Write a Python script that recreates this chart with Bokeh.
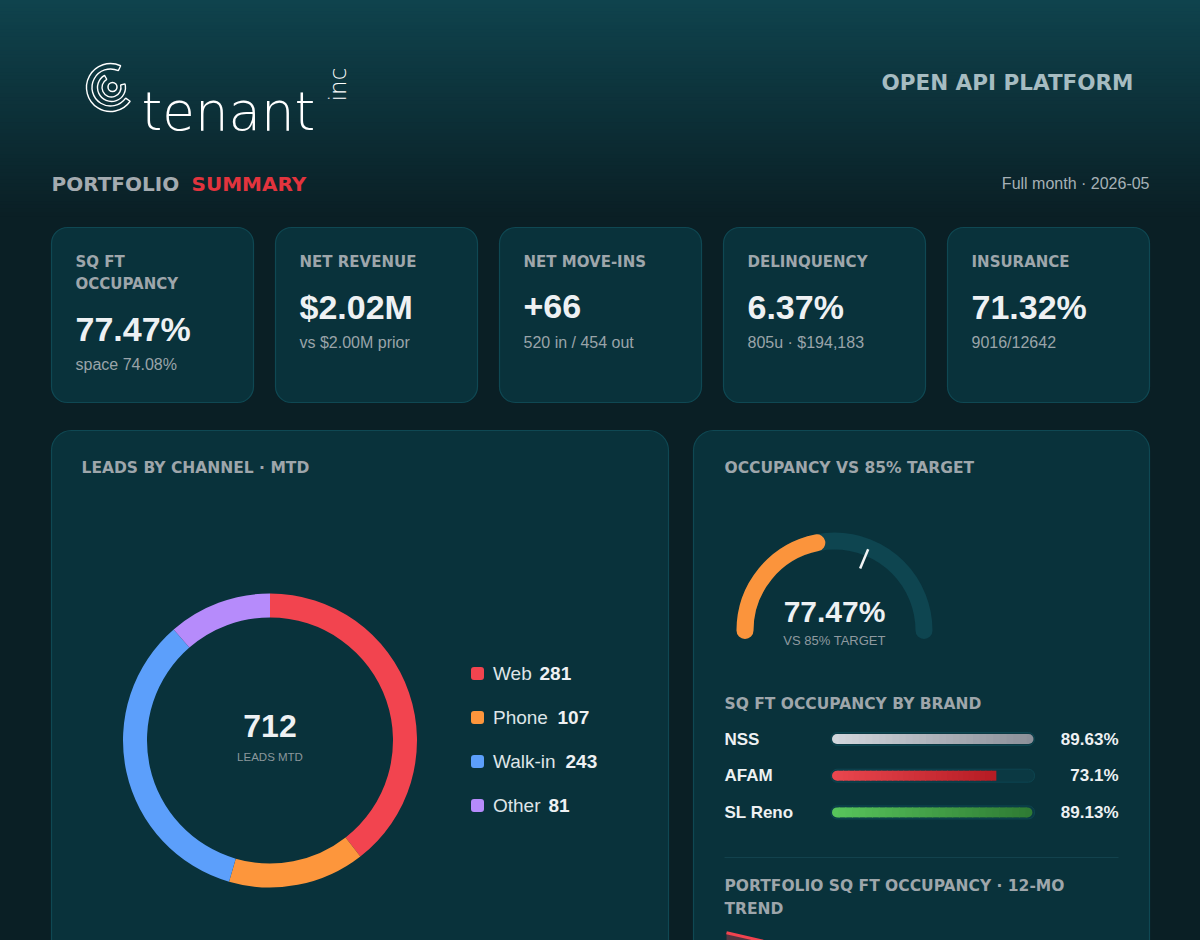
import math
import numpy as np
from bokeh.plotting import figure
from bokeh.models import Range1d
from bokeh.core.properties import value
from bokeh.embed import file_html
from bokeh.resources import INLINE

# ---------------- data ----------------
brand_name = "tenant"
brand_suffix = "inc"
platform_label = "OPEN API PLATFORM"
section_title = ["PORTFOLIO", "SUMMARY"]
period_label = "Full month · 2026-05"

kpi_labels = [["SQ FT", "OCCUPANCY"], ["NET REVENUE"], ["NET MOVE-INS"], ["DELINQUENCY"], ["INSURANCE"]]
kpi_values = ["77.47%", "$2.02M", "+66", "6.37%", "71.32%"]
kpi_subs = ["space 74.08%", "vs $2.00M prior", "520 in / 454 out", "805u · $194,183", "9016/12642"]

leads_title = "LEADS BY CHANNEL · MTD"
lead_channels = ["Web", "Phone", "Walk-in", "Other"]
lead_counts = [281, 107, 243, 81]
leads_caption = "LEADS MTD"

gauge_title = "OCCUPANCY VS 85% TARGET"
occupancy_pct = 77.47
occupancy_target = 85.0
gauge_min = 60.0
gauge_max = 100.0
gauge_caption = "VS 85% TARGET"

brand_title = "SQ FT OCCUPANCY BY BRAND"
brands = ["NSS", "AFAM", "SL Reno"]
brand_occupancy = [89.63, 73.1, 89.13]

trend_title = ["PORTFOLIO SQ FT OCCUPANCY · 12-MO", "TREND"]
trend_months = ["2025-06", "2025-07", "2025-08", "2025-09", "2025-10", "2025-11",
                "2025-12", "2026-01", "2026-02", "2026-03", "2026-04", "2026-05"]
trend_occupancy = [78.50, 78.37, 78.12, 77.95, 78.04, 77.81, 77.63, 77.52, 77.38, 77.44, 77.41, 77.47]

# ---------------- styles ----------------
SANS = "Liberation Sans"
WIDE = "DejaVu Sans"
THIN = "DejaVu Sans Light, Lato Light, Roboto Light, sans-serif"
PAGE_BG = "#0a1f25"
CARD_BG = "#09323b"
CARD_LINE = "#0f4853"
LABEL = "#9ea6ab"
WHITE = "#eef1f3"
SUB = "#9aa4a9"
lead_colors = ["#f2444f", "#fd963c", "#5c9ffb", "#b68bfb"]
brand_grad = [("#d3d7dd", "#8b8f98"), ("#ea474f", "#b51b23"), ("#58c55c", "#2e7a33")]


def mix(c0, c1, t):
    a = [int(c0[i:i + 2], 16) for i in (1, 3, 5)]
    b = [int(c1[i:i + 2], 16) for i in (1, 3, 5)]
    return "#%02x%02x%02x" % tuple(int(round(a[k] + (b[k] - a[k]) * t)) for k in range(3))


W, H = 1200, 940
p = figure(width=W + 1, height=H + 1, x_range=Range1d(-1, W), y_range=Range1d(H, -1),
           output_backend="svg", toolbar_location=None, min_border=0)
p.axis.visible = False
p.grid.visible = False
p.outline_line_color = None
p.background_fill_color = PAGE_BG
p.border_fill_color = PAGE_BG
p.styles = {"background-color": PAGE_BG, "margin-left": "-1px", "margin-top": "-1px"}


def txt(x, y, s, size, color, bold=False, font=SANS, align="left", baseline="middle", angle=0.0):
    p.text(x=[x], y=[y], text=[s], text_font=value(font), text_font_size=f"{size}px",
           text_font_style="bold" if bold else "normal", text_color=color,
           text_align=align, text_baseline=baseline, angle=angle)


# full background + header gradient
p.quad(left=[-5], right=[W + 5], top=[-5], bottom=[H + 5], fill_color=PAGE_BG, line_color=None)
n = 60
ys = np.linspace(0, 215, n + 1)
cols = [mix("#0f434d", PAGE_BG, (i + 0.5) / n) for i in range(n)]
p.quad(left=-5, right=W + 5, top=np.concatenate([[-5], ys[1:-1]]), bottom=ys[1:] + 0.8,
       fill_color=cols, line_color=None)

# logo icon (approximate swirl drawn as outlined bands)
lx, ly = 110, 87
p.annular_wedge(x=[lx, lx + 1], y=[ly, ly], inner_radius=[18.5, 9.5], outer_radius=[24, 14],
                start_angle=[math.radians(65), math.radians(120)],
                end_angle=[math.radians(-35), math.radians(15)],
                direction="anticlock", fill_color=None, line_color="white", line_width=1.4)
p.circle(x=[lx + 2], y=[ly - 0.5], radius=4.5, fill_color=None, line_color="white", line_width=1.5)
txt(141, 111, brand_name, 53, "white", font=THIN, baseline="alphabetic")
txt(337, 84, brand_suffix, 23, "white", font=THIN, align="center", angle=math.pi / 2)
txt(1133, 82, platform_label, 21.5, "#a6bcc1", bold=True, font=WIDE, align="right")

# section heading
txt(51, 183, section_title[0], 20, "#a4abb0", bold=True, font=WIDE)
txt(191, 183, section_title[1], 20, "#e2343e", bold=True, font=WIDE)
txt(1149, 183, period_label, 16, "#a6b1b6", align="right")

# KPI cards
card_w, gap = 202, 22
for i in range(len(kpi_values)):
    left = 51 + i * (card_w + gap)
    p.quad(left=[left], right=[left + card_w], top=[227], bottom=[402], fill_color=CARD_BG,
           line_color=CARD_LINE, line_width=1.2, border_radius=16)
    lines = kpi_labels[i]
    for j, ln in enumerate(lines):
        txt(left + 24, 261 + 22 * j, ln, 15, LABEL, bold=True, font=WIDE)
    extra = 22 * (len(lines) - 1)
    txt(left + 24, 306 + extra, kpi_values[i], 34, WHITE, bold=True)
    txt(left + 24, 342 + extra, kpi_subs[i], 16, SUB)

# big cards
p.quad(left=[51], right=[668], top=[430], bottom=[1000], fill_color=CARD_BG,
       line_color=CARD_LINE, line_width=1.2, border_radius=20)
p.quad(left=[693], right=[1149], top=[430], bottom=[1000], fill_color=CARD_BG,
       line_color=CARD_LINE, line_width=1.2, border_radius=20)

# ---- leads donut ----
txt(81, 467, leads_title, 15.5, LABEL, bold=True, font=WIDE)
total = sum(lead_counts)
cum = np.concatenate([[0], np.cumsum(lead_counts)]) / total
starts = [math.pi / 2 - 2 * math.pi * c for c in cum[:-1]]
ends = [math.pi / 2 - 2 * math.pi * c for c in cum[1:]]
p.annular_wedge(x=[269.5] * 4, y=[740] * 4, inner_radius=123, outer_radius=147,
                start_angle=starts, end_angle=ends, direction="clock",
                fill_color=lead_colors, line_color=None)
txt(269.5, 725, str(total), 32, WHITE, bold=True, align="center")
txt(269.5, 756, leads_caption, 11.5, "#8b979c", align="center")

legend_num_x = [539, 557, 565, 548]
for i, (ch, cnt) in enumerate(zip(lead_channels, lead_counts)):
    yy = 673 + 44 * i
    p.quad(left=[470.5], right=[483.5], top=[yy - 6.5], bottom=[yy + 6.5],
           fill_color=lead_colors[i], line_color=None, border_radius=3)
    txt(492.5, yy, ch, 19, "#dfe5e8")
    txt(legend_num_x[i], yy, str(cnt), 19, WHITE, bold=True)

# ---- gauge ----
txt(724, 467, gauge_title, 15.5, LABEL, bold=True, font=WIDE)
gcx, gcy, gr = 834, 630, 89.5
p.arc(x=[gcx], y=[gcy], radius=gr, start_angle=math.pi, end_angle=0, direction="clock",
      line_color="#0e4550", line_width=17, line_cap="round")
frac = (occupancy_pct - gauge_min) / (gauge_max - gauge_min)
p.arc(x=[gcx], y=[gcy], radius=gr, start_angle=math.pi, end_angle=math.pi - frac * math.pi,
      direction="clock", line_color="#fb943c", line_width=17, line_cap="round")
tfrac = (occupancy_target - gauge_min) / (gauge_max - gauge_min)
ta = math.pi - tfrac * math.pi
p.segment(x0=[gcx + 67 * math.cos(ta)], y0=[gcy - 67 * math.sin(ta)],
          x1=[gcx + 88 * math.cos(ta)], y1=[gcy - 88 * math.sin(ta)],
          line_color="#f2f4f5", line_width=2.5)
txt(gcx, 611, f"{occupancy_pct:.2f}%", 30, WHITE, bold=True, align="center")
txt(gcx, 640, gauge_caption, 13, "#8f9aa0", align="center")

# ---- brand bars ----
txt(724, 703, brand_title, 15.5, LABEL, bold=True, font=WIDE)
bar_x0, bar_w = 831.5, 201.5
bmax = max(brand_occupancy)
kb = bar_w / bmax
p.extra_x_ranges = {"bar": Range1d(start=(-1 - bar_x0) / kb, end=(W - bar_x0) / kb)}
nseg = 30
ov = 1.0 / kb
for i, (b, v) in enumerate(zip(brands, brand_occupancy)):
    yy = 738.5 + 36.7 * i
    txt(724, yy, b, 17, WHITE, bold=True)
    txt(1118, yy, f"{v:g}%", 17, WHITE, bold=True, align="right")
    p.quad(left=[-1 / kb], right=[bmax + 1 / kb], top=[yy - 6.5], bottom=[yy + 6.5],
           x_range_name="bar", fill_color="#0b3943", line_color="#0d4550", line_width=1,
           border_radius=6)
    edges = np.linspace(0, v, nseg + 1)
    c0, c1 = brand_grad[i]
    segcols = [mix(c0, c1, (k + 0.5) / nseg) for k in range(nseg)]
    p.quad(left=[edges[0]], right=[edges[1] + ov], top=[yy - 5], bottom=[yy + 5],
           x_range_name="bar", fill_color=segcols[0], line_color=None, border_radius=(5, 0, 0, 5))
    p.quad(left=edges[1:-2], right=edges[2:-1] + ov, top=yy - 5, bottom=yy + 5,
           x_range_name="bar", fill_color=segcols[1:-1], line_color=None)
    rr = (0, 5, 5, 0) if v / bmax > 0.97 else 0
    p.quad(left=[edges[-2]], right=[edges[-1]], top=[yy - 5], bottom=[yy + 5],
           x_range_name="bar", fill_color=segcols[-1], line_color=None, border_radius=rr)

p.segment(x0=[724], y0=[857], x1=[1118], y1=[857], line_color="#12424d", line_width=1.2)

# ---- trend ----
txt(724, 885, trend_title[0], 15.5, LABEL, bold=True, font=WIDE)
txt(724, 908, trend_title[1], 15.5, LABEL, bold=True, font=WIDE)
tx0, tx1 = 726, 1118
kx = (tx1 - tx0) / (len(trend_months) - 1)
t_hi = max(trend_occupancy) + 0.1
t_lo = min(trend_occupancy) - 0.7
ty_top, ty_bot = 926, 1046
ky = (ty_bot - ty_top) / (t_hi - t_lo)
p.extra_x_ranges["tx"] = Range1d(start=(-1 - tx0) / kx, end=(W - tx0) / kx)
p.extra_y_ranges = {"ty": Range1d(start=t_hi - (H - ty_top) / ky, end=t_hi + (ty_top + 1) / ky)}
idx = list(range(len(trend_months)))
p.varea(x=idx, y1=trend_occupancy, y2=[t_lo] * len(idx), x_range_name="tx", y_range_name="ty",
        fill_color="#e8424d", fill_alpha=0.32)
p.line(x=idx, y=trend_occupancy, x_range_name="tx", y_range_name="ty",
       line_color="#f2434f", line_width=3)

open("out.html", "w").write(file_html(p, INLINE))
